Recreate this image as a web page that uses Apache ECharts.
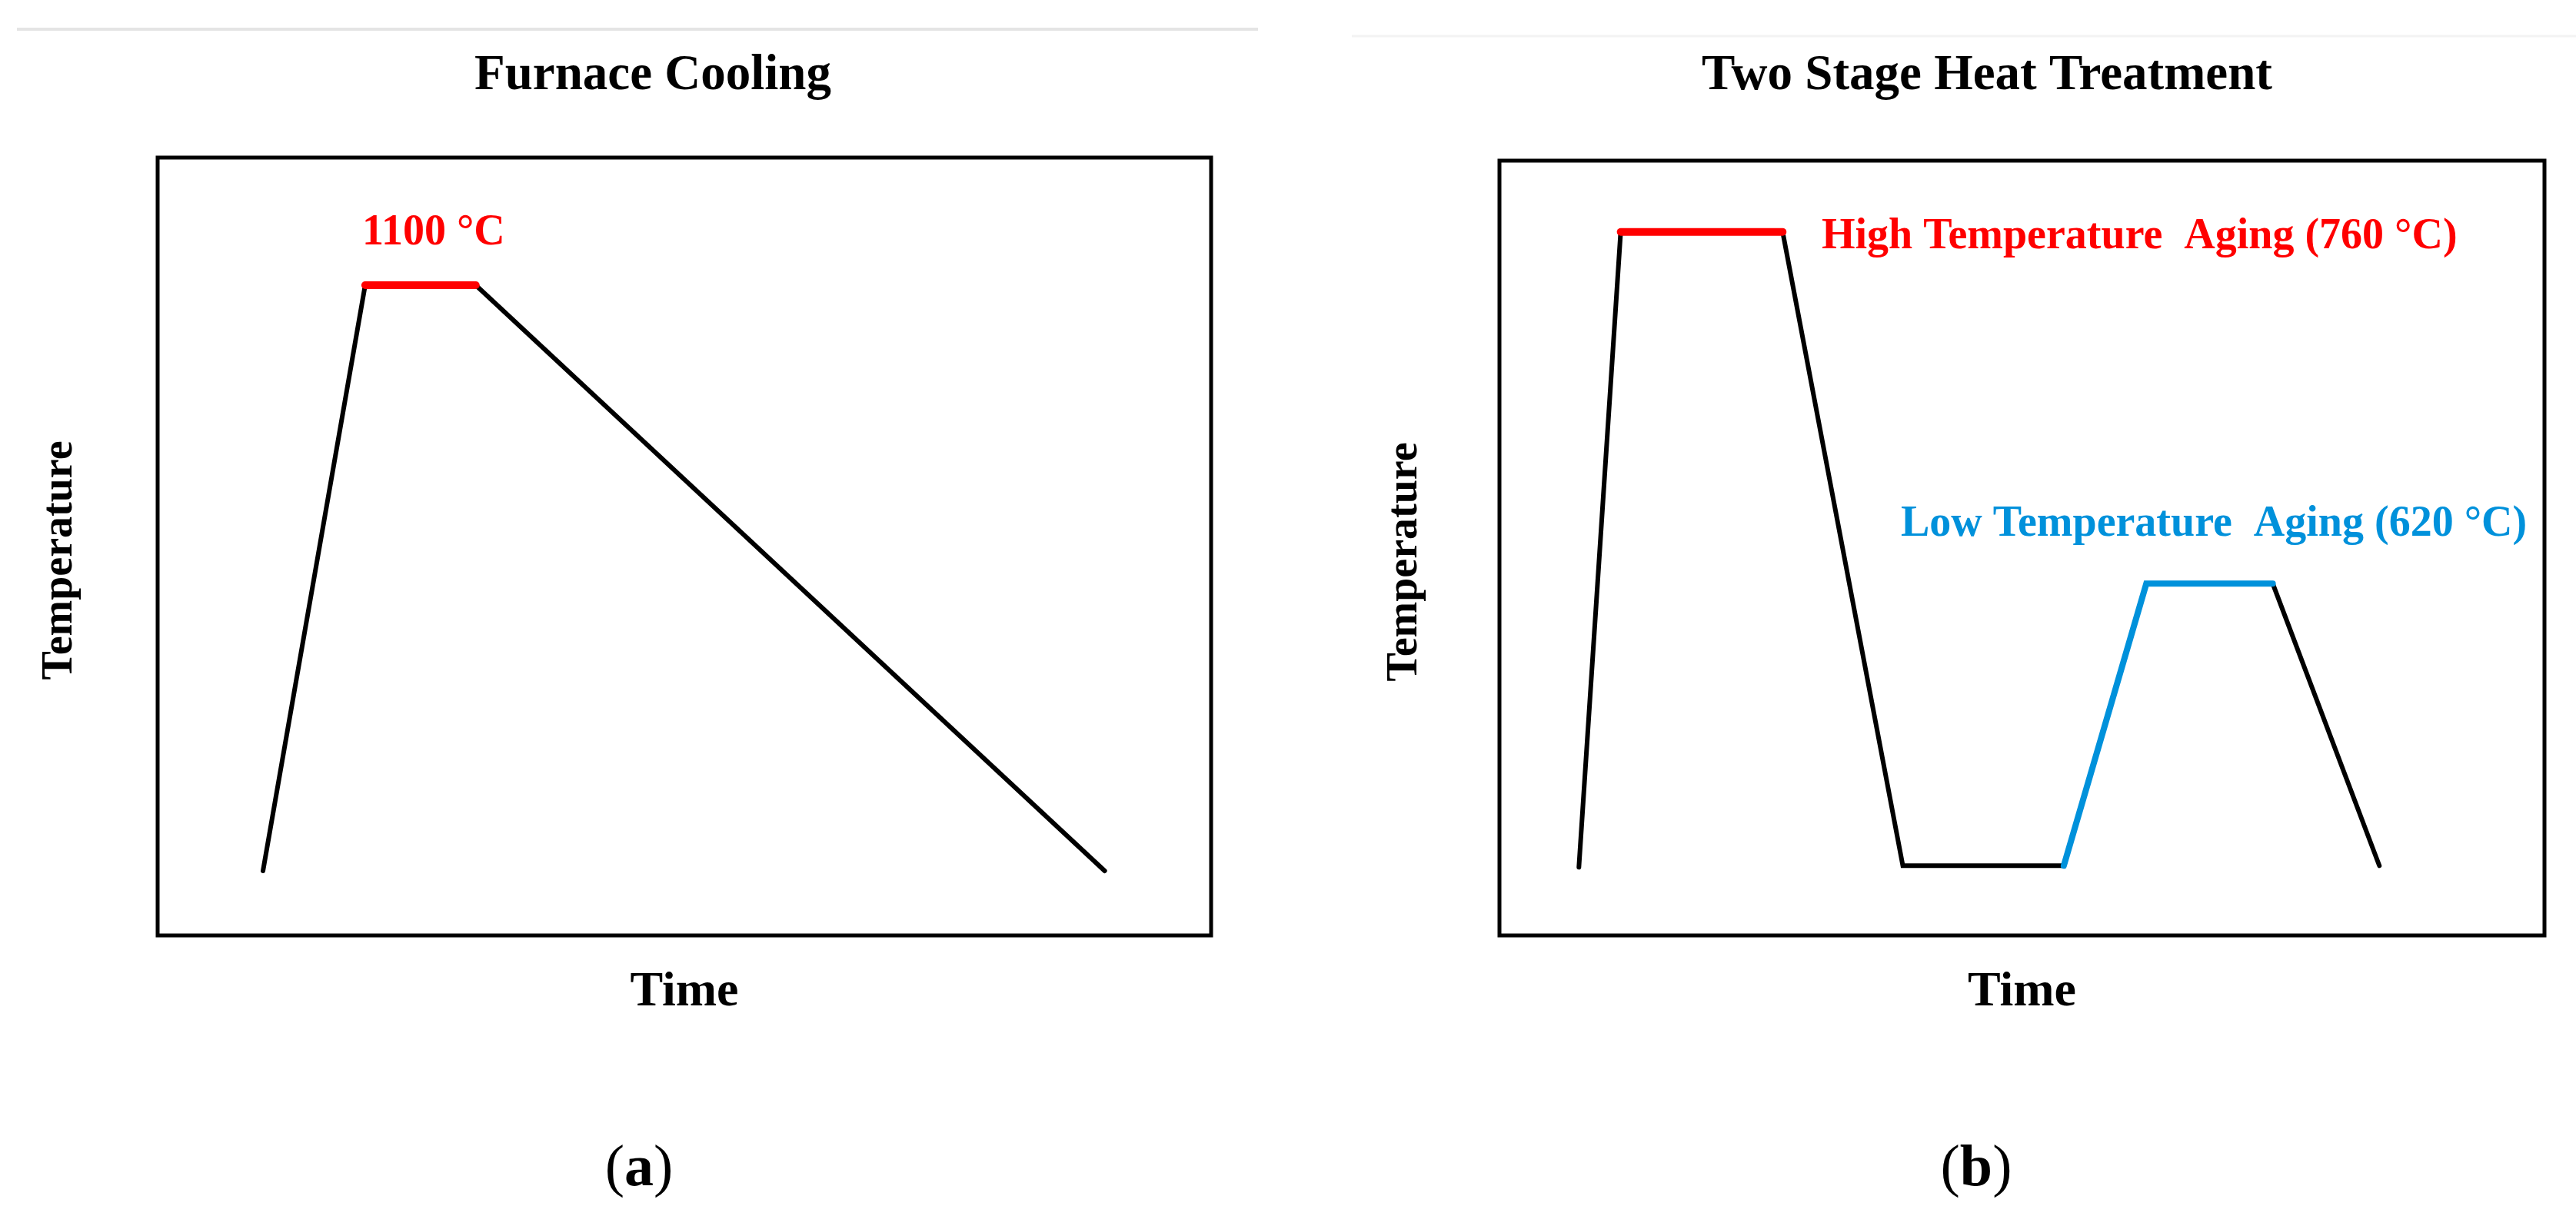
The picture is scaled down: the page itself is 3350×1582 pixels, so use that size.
<!DOCTYPE html>
<html><head><meta charset="utf-8">
<script src="https://cdn.jsdelivr.net/npm/echarts@6/dist/echarts.min.js"></script>
<style>html,body{margin:0;padding:0;background:#fff}#c{width:3350px;height:1582px}</style>
</head><body><div id="c"></div>
<script>
// Schematic heat-treatment profiles (time and temperature in relative units 0-100)
// Panel (a) Furnace Cooling
const aTime = [10, 19.7, 30.2, 89.9];
const aTemp = [8.3, 83.6, 83.6, 8.3];
const aHold = [1, 2];               // 1100 °C hold (red)
// Panel (b) Two Stage Heat Treatment
const bTime = [7.6, 11.6, 27.1, 38.6, 54.0, 61.9, 74.0, 84.2];
const bTemp = [8.8, 90.8, 90.8, 9.0, 9.0, 45.4, 45.4, 9.0];
const bHigh = [1, 2];               // high temperature aging (red)
const bLow = [4, 5, 6];             // low temperature aging (blue)

const titles = ['Furnace Cooling', 'Two Stage Heat Treatment'];
const xName = 'Time', yName = 'Temperature';
const labA = '1100 °C';
const labHigh = 'High Temperature  Aging (760 °C)';
const labLow = 'Low Temperature  Aging (620 °C)';

const FONT = '"Liberation Serif", "Times New Roman", serif';
const RED = '#ff0000', BLUE = '#0091db';

const pts = (t, v, idx) => (idx || t.map((_, i) => i)).map(i => [t[i], v[i]]);

function line(gi, data, color, width, z) {
  return { type: 'line', xAxisIndex: gi, yAxisIndex: gi, data, symbol: 'none', silent: true, z,
    lineStyle: { color, width, cap: 'round', join: 'miter' } };
}
function xAx(gi, gap) {
  return { type: 'value', gridIndex: gi, min: 0, max: 100, axisLine: { show: false }, axisTick: { show: false },
    axisLabel: { show: false }, splitLine: { show: false },
    name: xName, nameLocation: 'middle', nameGap: gap,
    nameTextStyle: { fontFamily: FONT, fontWeight: 'bold', fontSize: 64, color: '#000' } };
}
function yAx(gi, gap) {
  return { type: 'value', gridIndex: gi, min: 0, max: 100, axisLine: { show: false }, axisTick: { show: false },
    axisLabel: { show: false }, splitLine: { show: false },
    name: yName, nameLocation: 'middle', nameGap: gap, nameRotate: 90,
    nameTextStyle: { fontFamily: FONT, fontWeight: 'bold', fontSize: 56, color: '#000', padding: [0, 36, 0, 0] } };
}
function txt(x, y, text, size, color, align) {
  return { type: 'text', x, y, silent: true,
    style: { text, fontFamily: FONT, fontWeight: 'bold', fontSize: size, fill: color, align: align || 'left', verticalAlign: 'middle' } };
}
function letter(x, y, l) {
  return { type: 'text', x, y, silent: true,
    style: { text: '{r|(}{b|' + l + '}{r|)}', align: 'center', verticalAlign: 'middle',
      rich: { r: { fontFamily: FONT, fontSize: 76, fill: '#000' }, b: { fontFamily: FONT, fontSize: 76, fontWeight: 'bold', fill: '#000' } } } };
}

const chart = echarts.init(document.getElementById('c'), null, { renderer: 'canvas' });
chart.setOption({
  animation: false,
  backgroundColor: '#fff',
  grid: [
    { left: 205, top: 205, width: 1370, height: 1012, show: true, borderColor: '#000', borderWidth: 5, backgroundColor: 'transparent' },
    { left: 1950, top: 209, width: 1359, height: 1008, show: true, borderColor: '#000', borderWidth: 5, backgroundColor: 'transparent' }
  ],
  xAxis: [xAx(0, 42), xAx(1, 42)],
  yAxis: [yAx(0, 98), yAx(1, 94)],
  series: [
    line(0, pts(aTime, aTemp), '#000', 6, 2),
    line(0, pts(aTime, aTemp, aHold), RED, 10, 3),
    line(1, pts(bTime, bTemp), '#000', 6, 2),
    line(1, pts(bTime, bTemp, bHigh), RED, 10, 3),
    line(1, pts(bTime, bTemp, bLow), BLUE, 8, 3)
  ],
  graphic: [
    { type: 'line', silent: true, shape: { x1: 22, y1: 38, x2: 1636, y2: 38 }, style: { stroke: '#e4e4e4', lineWidth: 4 } },
    { type: 'line', silent: true, shape: { x1: 1758, y1: 47, x2: 3350, y2: 47 }, style: { stroke: '#f3f3f3', lineWidth: 3 } },
    txt(849, 99, titles[0], 65, '#000', 'center'),
    txt(2584, 99, titles[1], 65, '#000', 'center'),
    txt(471, 304, labA, 56, RED),
    txt(2369, 309, labHigh, 56, RED),
    txt(2472, 683, labLow, 56, BLUE),
    letter(831, 1522, 'a'),
    letter(2570, 1522, 'b')
  ]
});
</script></body></html>
